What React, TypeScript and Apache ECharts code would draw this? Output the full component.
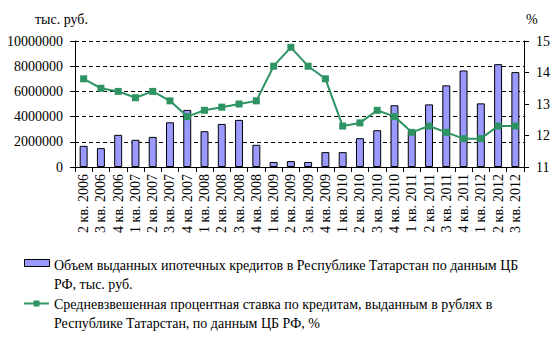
import React, { useEffect, useRef } from "react";
import * as echarts from "echarts";

const categories = [
  "2 кв. 2006", "3 кв. 2006", "4 кв. 2006",
  "1 кв. 2007", "2 кв. 2007", "3 кв. 2007", "4 кв. 2007",
  "1 кв. 2008", "2 кв. 2008", "3 кв. 2008", "4 кв. 2008",
  "1 кв. 2009", "2 кв. 2009", "3 кв. 2009", "4 кв. 2009",
  "1 кв. 2010", "2 кв. 2010", "3 кв. 2010", "4 кв. 2010",
  "1 кв. 2011", "2 кв. 2011", "3 кв. 2011", "4 кв. 2011",
  "1 кв. 2012", "2 кв. 2012", "3 кв. 2012",
];

const loanVolume = [
  1680000, 1500000, 2550000, 2160000, 2390000, 3550000, 4530000,
  2840000, 3420000, 3740000, 1760000, 400000, 470000, 400000,
  1180000, 1180000, 2290000, 2920000, 4900000, 2900000, 4970000,
  6480000, 7660000, 5050000, 8160000, 7530000,
];

const interestRate = [
  13.8, 13.5, 13.4, 13.2, 13.4, 13.1, 12.6, 12.8, 12.9, 13.0, 13.1,
  14.2, 14.8, 14.2, 13.8, 12.3, 12.4, 12.8, 12.6, 12.1, 12.3, 12.1,
  11.9, 11.9, 12.3, 12.3,
];

const barName =
  "Объем выданных ипотечных кредитов в Республике Татарстан по данным ЦБ РФ, тыс. руб.";
const lineName =
  "Средневзвешенная процентная ставка по кредитам, выданным в рублях в Республике Татарстан, по данным ЦБ РФ, %";
const barLegendLines = [
  "Объем выданных ипотечных кредитов в Республике Татарстан по данным ЦБ",
  "РФ, тыс. руб.",
];
const lineLegendLines = [
  "Средневзвешенная процентная ставка по кредитам, выданным в рублях в",
  "Республике Татарстан, по данным ЦБ РФ, %",
];

const FONT = "'Liberation Serif', serif";
const BAR_COLOR = "#9999ff";
const LINE_COLOR = "#2e9463";

export default function App() {
  const ref = useRef<HTMLDivElement>(null);
  useEffect(() => {
    if (!ref.current) return;
    const chart = echarts.init(ref.current, null, { renderer: "svg" });
    const textStyle = { fontFamily: FONT, fontSize: 14, color: "#000" };
    chart.setOption({
      animation: false,
      backgroundColor: "#fff",
      textStyle: { fontFamily: FONT },
      grid: { left: 75, right: 34, top: 41, bottom: 192, containLabel: false },
      xAxis: {
        type: "category",
        data: categories,
        boundaryGap: true,
        axisLine: { lineStyle: { color: "#000", width: 1 } },
        axisTick: { show: true, length: 5, inside: false, lineStyle: { color: "#000" } },
        axisLabel: { rotate: 90, margin: 7, interval: 0, ...textStyle },
      },
      yAxis: [
        {
          type: "value",
          min: 0,
          max: 10000000,
          interval: 2000000,
          position: "left",
          axisLine: { show: true, lineStyle: { color: "#000" } },
          axisTick: { show: true, length: 5, lineStyle: { color: "#000" } },
          axisLabel: { margin: 12, formatter: (v: number) => String(v), ...textStyle },
          splitLine: { show: true, lineStyle: { color: "#000", type: [4, 3], width: 1 } },
        },
        {
          type: "value",
          min: 11,
          max: 15,
          interval: 1,
          position: "right",
          axisLine: { show: true, lineStyle: { color: "#000" } },
          axisTick: { show: true, length: 5, lineStyle: { color: "#000" } },
          axisLabel: { margin: 12, ...textStyle },
          splitLine: { show: false },
        },
      ],
      series: [
        {
          name: barName,
          type: "bar",
          data: loanVolume,
          yAxisIndex: 0,
          barWidth: "46%",
          itemStyle: { color: BAR_COLOR, borderColor: "#000", borderWidth: 1 },
        },
        {
          name: lineName,
          type: "line",
          data: interestRate,
          yAxisIndex: 1,
          symbol: "rect",
          symbolSize: 7,
          lineStyle: { color: LINE_COLOR, width: 2 },
          itemStyle: { color: LINE_COLOR },
        },
      ],
      graphic: [
        { type: "text", left: 35, top: 12, style: { text: "тыс. руб.", font: `14px ${FONT}`, fill: "#000" } },
        { type: "text", left: 526, top: 12, style: { text: "%", font: `14px ${FONT}`, fill: "#000" } },
        { type: "rect", shape: { x: 24.5, y: 259.5, width: 25, height: 7 }, style: { fill: BAR_COLOR, stroke: "#000", lineWidth: 1 } },
        { type: "text", left: 54, top: 256, style: { text: barLegendLines.join("\n"), font: `14px ${FONT}`, lineHeight: 19, fill: "#000" } },
        { type: "line", shape: { x1: 24, y1: 303.5, x2: 49, y2: 303.5 }, style: { stroke: LINE_COLOR, lineWidth: 2 } },
        { type: "rect", shape: { x: 33.5, y: 300.5, width: 6, height: 6 }, style: { fill: LINE_COLOR } },
        { type: "text", left: 54, top: 295, style: { text: lineLegendLines.join("\n"), font: `14px ${FONT}`, lineHeight: 19, fill: "#000" } },
      ],
    });
    return () => chart.dispose();
  }, []);
  return <div ref={ref} style={{ width: 558, height: 359, position: "absolute", left: 0, top: 0 }} />;
}
